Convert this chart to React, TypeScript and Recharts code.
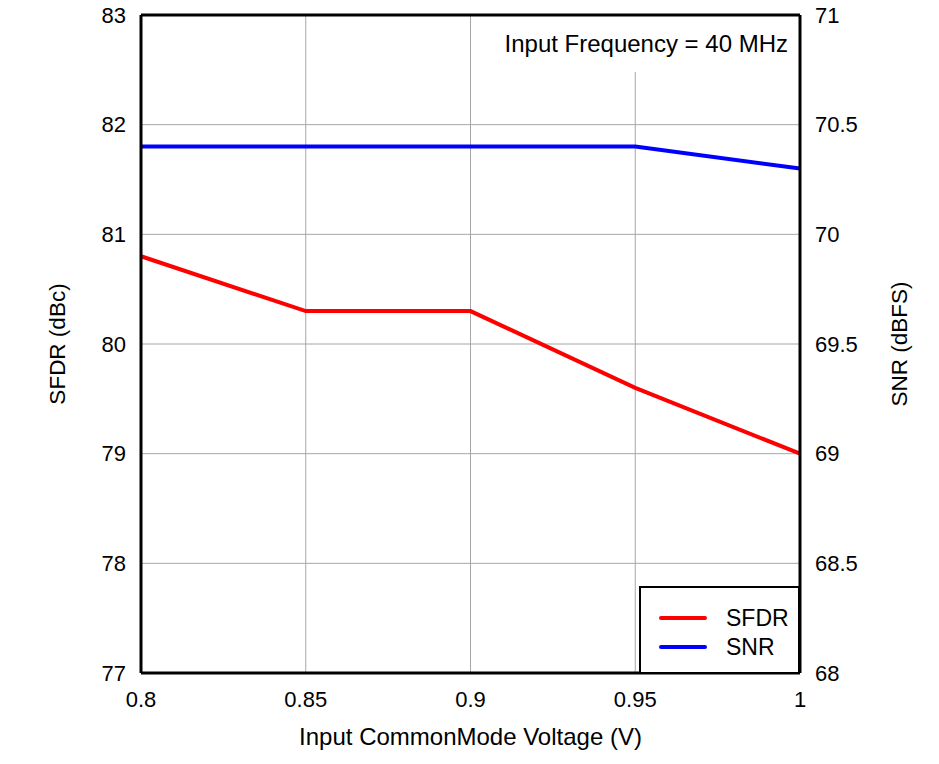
import React from 'react';
import {
  LineChart,
  Line,
  XAxis,
  YAxis,
  CartesianGrid,
  ReferenceArea,
  ReferenceLine,
  Legend,
} from 'recharts';

const voltages = [0.8, 0.85, 0.9, 0.95, 1.0];
const sfdr = [80.8, 80.3, 80.3, 79.6, 79.0];
const snr = [70.4, 70.4, 70.4, 70.4, 70.3];

const xTicks = [0.8, 0.85, 0.9, 0.95, 1.0];
const xTickLabels = ['0.8', '0.85', '0.9', '0.95', '1'];
const leftTicks = [77, 78, 79, 80, 81, 82, 83];
const rightTicks = [68, 68.5, 69, 69.5, 70, 70.5, 71];

const seriesInfo = [
  { key: 'sfdr', name: 'SFDR', color: '#ff0000' },
  { key: 'snr', name: 'SNR', color: '#0000ff' },
];

const annotation = 'Input Frequency = 40 MHz';

const data = voltages.map((v, i) => ({ v, sfdr: sfdr[i], snr: snr[i] }));

const FONT = '"Liberation Sans", Arial, sans-serif';

const RotLabel = (props: any) => {
  const { viewBox, text, dxFromLeft } = props;
  const cx = viewBox.x + dxFromLeft;
  const cy = viewBox.y + viewBox.height / 2;
  return (
    <text
      x={cx}
      y={cy}
      transform={`rotate(-90, ${cx}, ${cy})`}
      textAnchor="middle"
      dominantBaseline="central"
      fontFamily={FONT}
      fontSize={22.5}
      fill="#000"
    >
      {text}
    </text>
  );
};

const XLabel = (props: any) => {
  const { viewBox } = props;
  const cx = viewBox.x + viewBox.width / 2;
  const cy = viewBox.y + 63;
  return (
    <text
      x={cx}
      y={cy}
      textAnchor="middle"
      dominantBaseline="central"
      fontFamily={FONT}
      fontSize={24}
      fill="#000"
    >
      Input CommonMode Voltage (V)
    </text>
  );
};

const LegendBox = () => (
  <div
    style={{
      position: 'relative',
      width: '100%',
      height: '100%',
      boxSizing: 'border-box',
      border: '2px solid #000',
      background: '#fff',
      fontFamily: FONT,
      fontSize: 23,
      color: '#000',
    }}
  >
    {seriesInfo.map((s, i) => (
      <div
        key={s.key}
        style={{ position: 'absolute', left: 0, top: 16 + i * 29, height: 28, width: '100%' }}
      >
        <div
          style={{
            position: 'absolute',
            left: 18,
            top: 12,
            width: 48,
            height: 4,
            borderRadius: 2,
            background: s.color,
          }}
        />
        <div style={{ position: 'absolute', left: 85, top: 0, lineHeight: '28px' }}>{s.name}</div>
      </div>
    ))}
  </div>
);

export default function App() {
  return (
    <div style={{ position: 'absolute', left: 0, top: 0, width: 939, height: 764, background: '#fff' }}>
      <LineChart
        width={939}
        height={764}
        data={data}
        margin={{ top: 15, right: 0, bottom: 0, left: 0 }}
      >
        <CartesianGrid yAxisId="left" stroke="#a6a6a6" strokeWidth={1} vertical horizontal />
        <XAxis
          dataKey="v"
          type="number"
          domain={[0.8, 1.0]}
          ticks={xTicks}
          tickFormatter={(v: number) => xTickLabels[xTicks.indexOf(v)] ?? String(v)}
          height={91}
          axisLine={{ stroke: '#000', strokeWidth: 3 }}
          tickLine={false}
          tickSize={6}
          tickMargin={12}
          tick={{ fontFamily: FONT, fontSize: 22, fill: '#000' }}
          interval={0}
          label={{ content: (p: any) => <XLabel {...p} /> }}
        />
        <YAxis
          yAxisId="left"
          orientation="left"
          domain={[77, 83]}
          ticks={leftTicks}
          width={141}
          axisLine={{ stroke: '#000', strokeWidth: 3 }}
          tickLine={false}
          tickSize={6}
          tickMargin={9}
          tick={{ fontFamily: FONT, fontSize: 22, fill: '#000' }}
          interval={0}
          label={{ content: (p: any) => <RotLabel {...p} text="SFDR (dBc)" dxFromLeft={57} /> }}
        />
        <YAxis
          yAxisId="right"
          orientation="right"
          domain={[68, 71]}
          ticks={rightTicks}
          width={139}
          axisLine={{ stroke: '#000', strokeWidth: 3 }}
          tickLine={false}
          tickSize={6}
          tickMargin={9}
          tick={{ fontFamily: FONT, fontSize: 22, fill: '#000' }}
          interval={0}
          label={{ content: (p: any) => <RotLabel {...p} text="SNR (dBFS)" dxFromLeft={99} /> }}
        />
        <ReferenceArea
          yAxisId="left"
          x1={0.91}
          x2={1.0}
          y1={82.48}
          y2={83}
          fill="#fff"
          fillOpacity={1}
          stroke="none"
          ifOverflow="visible"
          label={{
            value: annotation,
            position: 'insideRight',
            offset: 12,
            fontFamily: FONT,
            fontSize: 24,
            fill: '#000',
          }}
        />
        <ReferenceLine yAxisId="left" y={83} stroke="#000" strokeWidth={3} />
        <Line
          yAxisId="left"
          dataKey="sfdr"
          name="SFDR"
          stroke="#ff0000"
          strokeWidth={4}
          dot={false}
          type="linear"
          isAnimationActive={false}
        />
        <Line
          yAxisId="right"
          dataKey="snr"
          name="SNR"
          stroke="#0000ff"
          strokeWidth={4}
          dot={false}
          type="linear"
          isAnimationActive={false}
        />
        <Legend
          layout="vertical"
          align="center"
          verticalAlign="middle"
          wrapperStyle={{ left: 639, top: 586, width: 161, height: 88, margin: 0, padding: 0 }}
          content={() => <LegendBox />}
        />
      </LineChart>
    </div>
  );
}
